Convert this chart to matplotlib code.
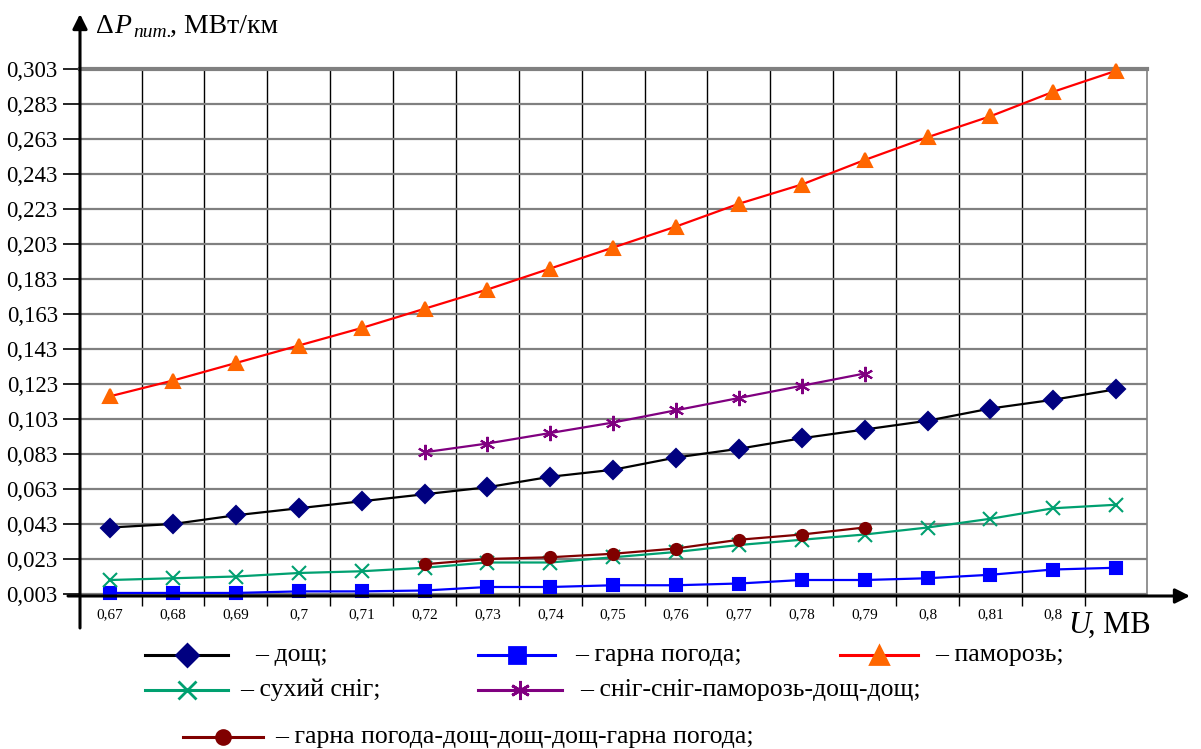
import matplotlib.pyplot as plt
import numpy as np

plt.rcParams['font.family'] = ['Liberation Serif', 'DejaVu Serif']

# U, MV (x axis labels as printed; the last one is hidden under the axis title)
u_labels = ['0,67', '0,68', '0,69', '0,7', '0,71', '0,72', '0,73', '0,74', '0,75',
            '0,76', '0,77', '0,78', '0,79', '0,8', '0,81', '0,8', '']
y_ticks = [0.003, 0.023, 0.043, 0.063, 0.083, 0.103, 0.123, 0.143, 0.163,
           0.183, 0.203, 0.223, 0.243, 0.263, 0.283, 0.303]

nan = np.nan
rain = [0.041, 0.043, 0.048, 0.052, 0.056, 0.060, 0.064, 0.070, 0.074,
        0.081, 0.086, 0.092, 0.097, 0.102, 0.109, 0.114, 0.120]
fair = [0.0036, 0.0036, 0.0036, 0.0045, 0.0045, 0.005, 0.007, 0.007, 0.008,
        0.008, 0.009, 0.011, 0.011, 0.012, 0.014, 0.017, 0.018]
rime = [0.116, 0.125, 0.135, 0.145, 0.155, 0.166, 0.177, 0.189, 0.201,
        0.213, 0.226, 0.237, 0.251, 0.264, 0.276, 0.290, 0.302]
dry_snow = [0.011, 0.012, 0.013, 0.015, 0.016, 0.018, 0.021, 0.021, 0.024,
            0.027, 0.031, 0.034, 0.037, 0.041, 0.046, 0.052, 0.054]
snow_mix = [nan, nan, nan, nan, nan, 0.084, 0.089, 0.095, 0.101,
            0.108, 0.115, 0.122, 0.129, nan, nan, nan, nan]
fair_mix = [nan, nan, nan, nan, nan, 0.020, 0.023, 0.024, 0.026,
            0.029, 0.034, 0.037, 0.041, nan, nan, nan, nan]

W, H = 1201, 749
fig = plt.figure(figsize=(W / 100, H / 100), dpi=100)
x0, x1, ytop, ybot = 80, 1147, 69, 596
ax = fig.add_axes([x0 / W, 1 - ybot / H, (x1 - x0) / W, (ybot - ytop) / H])

x = np.arange(len(u_labels))
series = [
    (rain, 'black', 'D', '#000080', 9, '– дощ;'),
    (fair, '#0000FF', 's', '#0000FF', 9, '– гарна погода;'),
    (rime, '#FF0000', '^', '#FF6600', 10, '– паморозь;'),
    (dry_snow, '#00A070', 'x', '#00A070', 10, '– сухий сніг;'),
    (snow_mix, '#800080', (6, 2, 0), '#800080', 11, '– сніг-сніг-паморозь-дощ-дощ;'),
    (fair_mix, '#800000', 'o', '#800000', 8, '– гарна погода-дощ-дощ-дощ-гарна погода;'),
]
for vals, lc, mk, mc, ms, lab in series:
    ax.plot(x, vals, color=lc, lw=1.6, marker=mk, ms=ms, mfc=mc, mec=mc,
            mew=1.5, zorder=3, clip_on=False)

ax.set_xlim(-0.48, 16.49)
ax.set_ylim(0.003 - 2 / 1750, 0.303)
ax.set_xticks(x)
ax.set_xticklabels(u_labels, fontsize=11)
ax.set_xticks(x[:-1] + 0.5, minor=True)
ax.tick_params(axis='x', which='major', length=0, pad=9)
ax.tick_params(axis='x', which='minor', length=7, width=1, direction='out')
ax.set_yticks(y_ticks)
ax.set_yticklabels([f'{v:.3f}'.replace('.', ',') for v in y_ticks], fontsize=16.5)
ax.tick_params(axis='y', length=12, width=1.2, pad=4)
ax.grid(which='minor', axis='x', color='black', lw=1)
ax.grid(which='major', axis='y', color='#808080', lw=1.6)
ax.grid(which='major', axis='x', visible=False)
for s in ['left', 'bottom']:
    ax.spines[s].set_visible(False)
ax.spines['top'].set_color('#808080')
ax.spines['top'].set_linewidth(3)
ax.spines['right'].set_color('#808080')
ax.spines['right'].set_linewidth(1.2)
ax.set_axisbelow(True)

# axes with arrows
ax.annotate('', xy=(1190, H - ybot), xytext=(68, H - ybot), xycoords='figure pixels',
            arrowprops=dict(arrowstyle='-|>', lw=2.2, color='black', mutation_scale=22,
                            shrinkA=0, shrinkB=0))
ax.annotate('', xy=(x0, H - 14), xytext=(x0, H - 628), xycoords='figure pixels',
            arrowprops=dict(arrowstyle='-|>', lw=2.2, color='black', mutation_scale=22,
                            shrinkA=0, shrinkB=0))

# axis titles
def fx(px):
    return px / W

def fy(py):
    return 1 - py / H

fig.text(fx(96), fy(33), 'Δ', fontsize=20, va='baseline')
fig.text(fx(114), fy(33), 'P', fontsize=20, style='italic', va='baseline')
fig.text(fx(133), fy(37), 'пит.', fontsize=14, style='italic', va='baseline')
fig.text(fx(170), fy(33), ', МВт/км', fontsize=20, va='baseline')
fig.text(fx(1068), fy(633), 'U', fontsize=22, style='italic', va='baseline')
fig.text(fx(1088), fy(633), ', МВ', fontsize=22, va='baseline')

# legend drawn by hand
legend_pos = [
    (145, 228, 655, 255),
    (478, 555, 655, 575),
    (840, 918, 655, 935),
    (145, 228, 690, 240),
    (478, 562, 690, 580),
    (183, 263, 737, 275),
]
for (vals, lc, mk, mc, ms, lab), (lx0, lx1, ly, tx) in zip(series, legend_pos):
    fig.add_artist(plt.Line2D([fx(lx0), fx(lx1)], [fy(ly), fy(ly)], color=lc, lw=2.2,
                              transform=fig.transFigure))
    fig.add_artist(plt.Line2D([fx((lx0 + lx1) / 2)], [fy(ly)], marker=mk, ms=ms * 1.25,
                              mfc=mc, mec=mc, mew=2, transform=fig.transFigure))
    fig.text(fx(tx), fy(ly), lab, fontsize=18.5, va='center')

fig.savefig('out.png', dpi=100)
